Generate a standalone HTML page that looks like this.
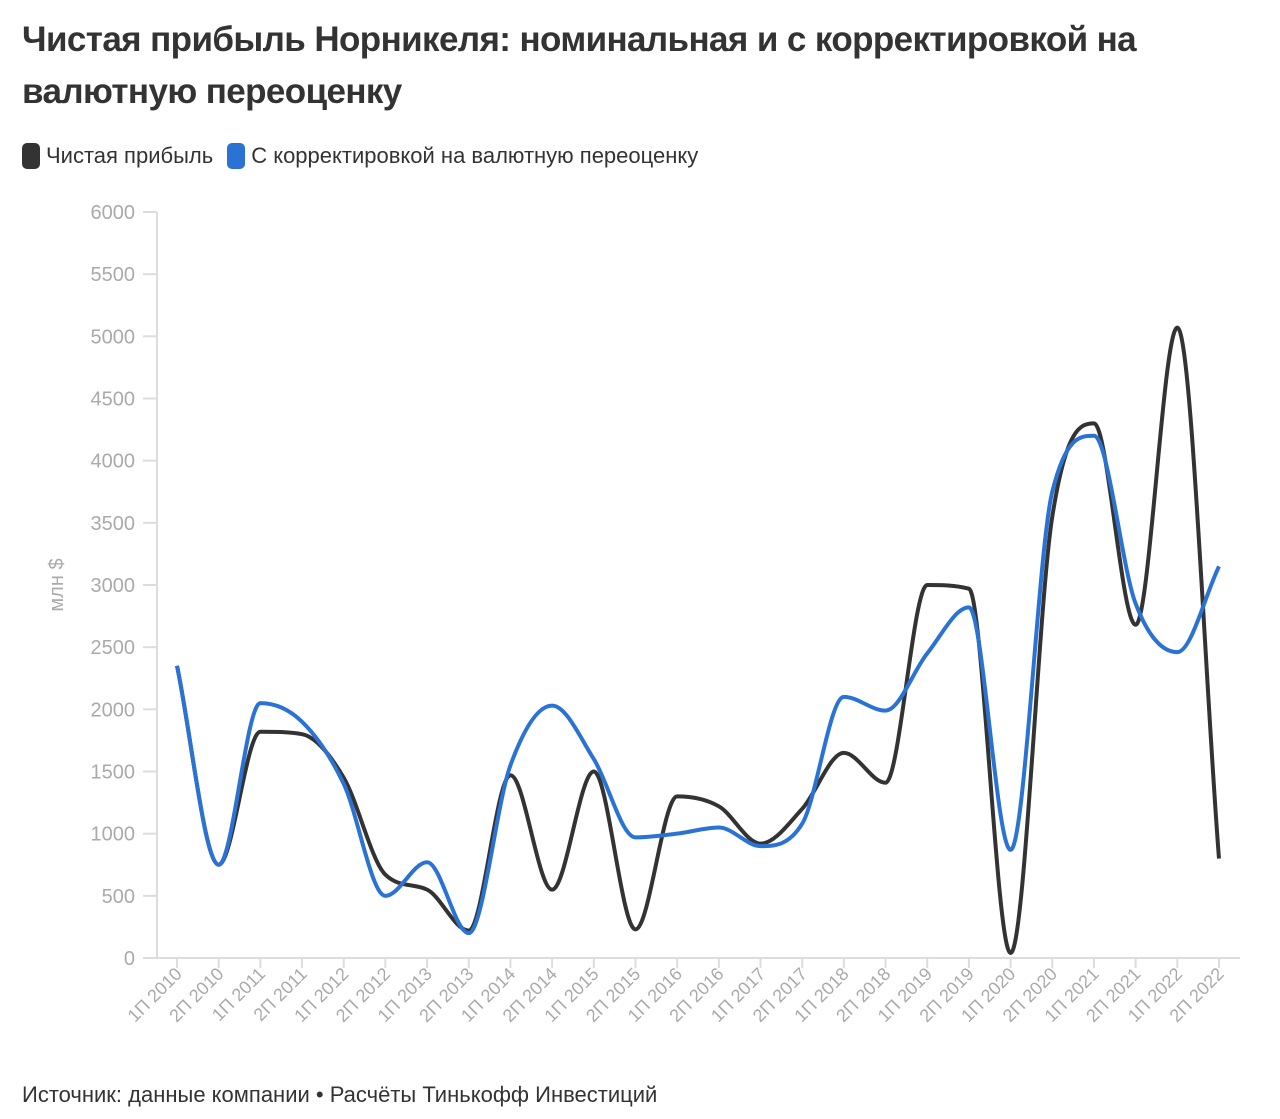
<!DOCTYPE html>
<html><head><meta charset="utf-8"><style>
body{margin:0;background:#fff;width:1280px;height:1119px;overflow:hidden;font-family:"Liberation Sans",sans-serif}
#title{position:absolute;left:22px;top:14px;font-size:35px;font-weight:bold;color:#333;line-height:52px;letter-spacing:-0.6px;width:1240px}
#legend{position:absolute;left:22px;top:143px;font-size:22px;color:#333;display:flex;align-items:center}
.sw{display:inline-block;width:18px;height:26px;border-radius:5px;margin-right:6px}
#src{position:absolute;left:22px;top:1082px;font-size:22px;color:#333}
</style></head><body>
<div id="title">Чистая прибыль Норникеля: номинальная и с корректировкой на валютную переоценку</div>
<div id="legend">
<span style="display:flex;align-items:center;margin-right:14px"><span class="sw" style="background:#333"></span>Чистая прибыль</span>
<span style="display:flex;align-items:center"><span class="sw" style="background:#2a73d5"></span>С корректировкой на валютную переоценку</span>
</div>
<svg id="chart" width="1280" height="1119" style="position:absolute;left:0;top:0"></svg>
<div id="src">Источник: данные компании • Расчёты Тинькофф Инвестиций</div>
<script>
const categories=["1П 2010","2П 2010","1П 2011","2П 2011","1П 2012","2П 2012","1П 2013","2П 2013","1П 2014","2П 2014","1П 2015","2П 2015","1П 2016","2П 2016","1П 2017","2П 2017","1П 2018","2П 2018","1П 2019","2П 2019","1П 2020","2П 2020","1П 2021","2П 2021","1П 2022","2П 2022"];
const netProfit=[2350,750,1820,1800,1450,670,550,220,1470,550,1500,230,1300,1220,920,1200,1650,1410,3000,2970,40,3550,4300,2680,5070,800];
const adjusted=[2350,750,2050,1900,1400,500,770,200,1550,2030,1600,970,1000,1050,900,1080,2100,1990,2450,2820,870,3750,4200,2850,2460,3150];
const yTicks=[0,500,1000,1500,2000,2500,3000,3500,4000,4500,5000,5500,6000];
const svg=document.getElementById('chart');const NS='http://www.w3.org/2000/svg';
const x0=177,dx=(1219-177)/25,yb=958,yt=212;
const X=i=>x0+i*dx, Y=v=>yb-(v/6000)*(yb-yt);
function mk(t,a){const e=document.createElementNS(NS,t);for(const k in a)e.setAttribute(k,a[k]);svg.appendChild(e);return e;}
let e=mk('line',{x1:157,y1:212,x2:157,y2:958,stroke:'#ddd','stroke-width':2});

e=mk('line',{x1:157,y1:958,x2:1240,y2:958,stroke:'#ddd','stroke-width':2});

yTicks.forEach(v=>{
 let l=mk('line',{x1:143,y1:Y(v),x2:157,y2:Y(v),stroke:'#ddd','stroke-width':2});
 
 let t=mk('text',{x:135,y:Y(v)+7,'text-anchor':'end','font-size':20,fill:'#aaa','font-family':'Liberation Sans, sans-serif'});
 t.textContent=v;
});
categories.forEach((c,i)=>{
 let l=mk('line',{x1:X(i),y1:958,x2:X(i),y2:968,stroke:'#ddd','stroke-width':2});
 
 let t=mk('text',{x:X(i)+6,y:975,'text-anchor':'end','font-size':18,fill:'#aaa','font-family':'Liberation Sans, sans-serif',transform:`rotate(-45 ${X(i)+6} 975)`});
 t.textContent=c;
});
let yl=mk('text',{x:63,y:585,'text-anchor':'middle','font-size':20,fill:'#aaa','font-family':'Liberation Sans, sans-serif',transform:'rotate(-90 63 585)'});
yl.textContent='млн $';
function monotone(vals){
 const p=vals.map((v,i)=>[X(i),Y(v)]),n=p.length,m=[],d=[];
 for(let i=0;i<n-1;i++)d.push((p[i+1][1]-p[i][1])/(p[i+1][0]-p[i][0]));
 for(let i=0;i<n;i++){
  if(i==0)m.push(d[0]);else if(i==n-1)m.push(d[n-2]);
  else m.push(d[i-1]*d[i]<=0?0:(d[i-1]+d[i])/2);
 }
 for(let i=0;i<n-1;i++){if(d[i]==0){m[i]=m[i+1]=0;continue;}const a=m[i]/d[i],b=m[i+1]/d[i],s=a*a+b*b;if(s>9){const t=3/Math.sqrt(s);m[i]=t*a*d[i];m[i+1]=t*b*d[i];}}
 let s=`M${p[0][0]},${p[0][1]}`;
 for(let i=0;i<n-1;i++){const h=(p[i+1][0]-p[i][0])/3;s+=`C${p[i][0]+h},${p[i][1]+m[i]*h} ${p[i+1][0]-h},${p[i+1][1]-m[i+1]*h} ${p[i+1][0]},${p[i+1][1]}`;}
 return s;
}
let a=mk('path',{d:monotone(netProfit),fill:'none',stroke:'#333','stroke-width':4,'stroke-linejoin':'round'});

let b=mk('path',{d:monotone(adjusted),fill:'none',stroke:'#2a73d5','stroke-width':4,'stroke-linejoin':'round'});

</script>
</body></html>
